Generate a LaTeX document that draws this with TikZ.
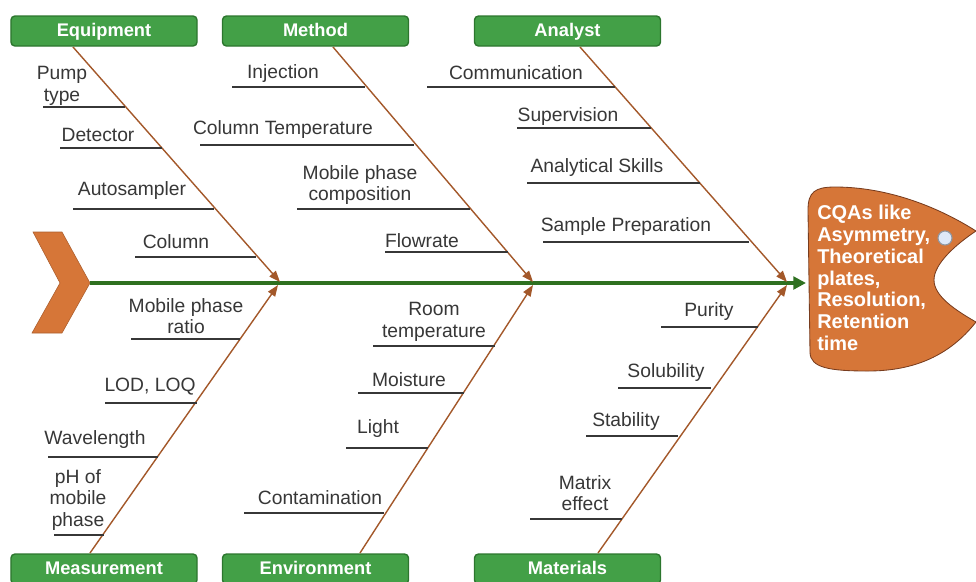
\documentclass[tikz,border=0pt]{standalone}
\usepackage{fontspec}
\setmainfont{Liberation Sans}
\usetikzlibrary{positioning,arrows.meta}
\tikzstyle{fishbone} = [x = 0.025cm, y = -0.025cm]
\definecolor{headerGreen}{RGB}{67,160,71}
\definecolor{headerBorder}{RGB}{44,118,46}
\definecolor{spineGreen}{RGB}{46,112,32}
\definecolor{boneBrown}{RGB}{163,88,42}
\definecolor{fishOrange}{RGB}{214,118,56}
\definecolor{headBorder}{RGB}{120,60,30}
\definecolor{causeGray}{RGB}{55,55,55}
\definecolor{dotBlue}{RGB}{222,232,248}
\tikzstyle{headerStyle} = [fill=headerGreen, draw=headerBorder, line width=1pt, rounded corners = .1cm, text=white, font=\fontsize{13}{15}\selectfont\bfseries, minimum width=4.65cm, minimum height=.75cm, inner sep=0pt, text height=.95em, text depth=.13em]
\tikzstyle{boneLine} = [color=boneBrown, line width=1pt, -{Triangle[length=8pt, width=6pt]}]
\tikzstyle{spineLine} = [color=spineGreen, line width=2.6pt, -{Triangle[length=9pt, width=9pt]}]
\tikzstyle{causeLine} = [color=causeGray, line width=1.1pt]
\tikzstyle{causeText} = [font=\fontsize{13.7}{15.4}\selectfont, text=causeGray, inner sep=0pt, align=center]
\tikzstyle{headText} = [font=\fontsize{14.2}{15.5}\selectfont\bfseries, text=white, inner sep=0pt, align=left, anchor=north west]
\newcommand{\cause}[6]{\draw [causeLine] (#2, #4) coordinate (#1Start) -- (#3, #4) coordinate (#1End); \node [causeText] (#1) at (#5) {#6};}
\newcommand{\bone}[3]{\coordinate (#1Top) at (#2); \coordinate (#1Join) at (#3); \draw [boneLine] (#1Top) -- (#1Join);}

\begin{document}
\begin{tikzpicture}[fishbone]
        \useasboundingbox (0,0) rectangle (976,581);

        % head and tail
        \filldraw [fill=fishOrange, draw=headBorder, line width=.6pt] (808,210) .. controls (808,192) and (815,187) .. (835,187) .. controls (885,187) and (935,205) .. (976,231) .. controls (955,245) and (934,264) .. (934,280) .. controls (934,296) and (955,310) .. (976,322) .. controls (950,355) and (915,371) .. (868,371) .. controls (830,371) and (810,368) .. (810,352) -- cycle;
        \filldraw [fill=fishOrange, draw=fishOrange!80!black, line width=.4pt] (33,232) -- (62,232) -- (90,283) -- (62,333) -- (32,333) -- (60,283) -- cycle;
        \node [headText] (cqa) at (817,205) {CQAs like\\Asymmetry,\\Theoretical\\plates,\\Resolution,\\Retention\\time};
        \filldraw [fill=dotBlue, draw=black!35!dotBlue, line width=.8pt] (945,238) circle (7);

        % spine
        \coordinate (tail) at (90,283);
        \coordinate (head) at (806,283);
        \draw [spineLine] (tail) -- (head);

        % categories
        \node [headerStyle] (equipment) at (104,31) {Equipment};
        \node [headerStyle] (method) at (315.5,31) {Method};
        \node [headerStyle] (analyst) at (567.5,31) {Analyst};
        \node [headerStyle] (measurement) at (104,569) {Measurement};
        \node [headerStyle] (environment) at (315.5,569) {Environment};
        \node [headerStyle] (materials) at (567.5,569) {Materials};

        \bone{equipment}{73,47}{280,282}
        \bone{method}{333,47}{533,282}
        \bone{analyst}{580,47}{787,282}
        \bone{measurement}{90,553}{278,285}
        \bone{environment}{360,553}{533,285}
        \bone{materials}{598,553}{787,285}

        % equipment causes
        \cause{pump}{43}{125}{107}{62,86}{Pump\\type}
        \cause{detector}{60}{162}{148}{98,135}{Detector}
        \cause{autosampler}{73}{214}{209}{132,191}{Autosampler}
        \cause{column}{135}{256}{257}{176,242}{Column}

        % method causes
        \cause{injection}{232}{365}{87}{283,74}{Injection}
        \cause{columnTemp}{200}{414}{145}{283,130}{Column Temperature}
        \cause{composition}{297}{470}{209}{360,185}{Mobile phase\\composition}
        \cause{flowrate}{385}{508}{252}{422,241}{Flowrate}

        % analyst causes
        \cause{communication}{427}{615}{87}{516,73}{Communication}
        \cause{supervision}{517}{651}{128}{568,117}{Supervision}
        \cause{skills}{527}{700}{183}{597,168}{Analytical Skills}
        \cause{preparation}{543}{749}{242}{626,227}{Sample Preparation}

        % measurement causes
        \cause{ratio}{131}{240}{339}{186,316}{Mobile phase\\ratio}
        \cause{limits}{105}{197}{403}{150,387}{LOD, LOQ}
        \cause{wavelength}{48}{158}{457}{95,440}{Wavelength}
        \cause{ph}{54}{104}{535}{78,500}{pH of\\mobile\\phase}

        % environment causes
        \cause{roomTemp}{373}{495}{346}{434,322}{Room\\temperature}
        \cause{moisture}{358}{464}{393}{409,380}{Moisture}
        \cause{light}{346}{428}{448}{378,429}{Light}
        \cause{contamination}{244}{384}{513}{320,498}{Contamination}

        % materials causes
        \cause{purity}{661}{758}{327}{709,312}{Purity}
        \cause{solubility}{618}{711}{388}{666,373}{Solubility}
        \cause{stability}{586}{678}{436}{626,422}{Stability}
        \cause{matrix}{530}{622}{519}{585,493}{Matrix\\effect}
      \end{tikzpicture}
\end{document}
